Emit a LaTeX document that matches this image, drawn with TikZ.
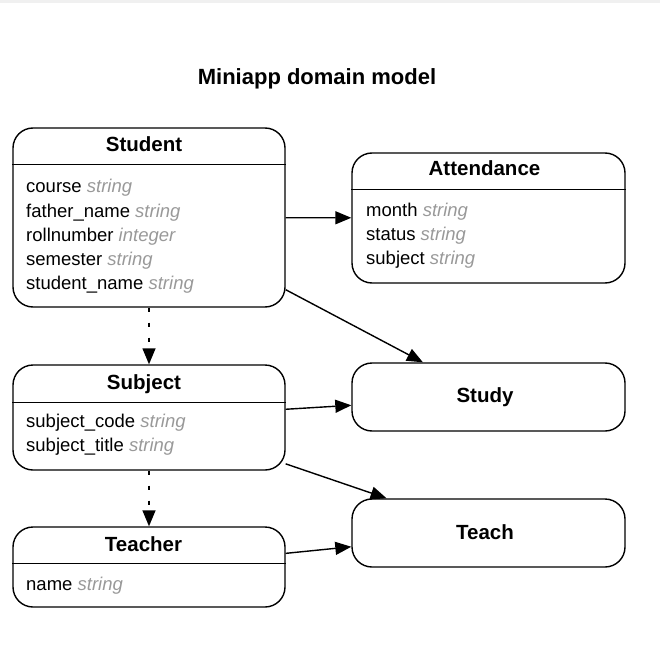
\documentclass[tikz,border=0pt]{standalone}
\usepackage{fontspec}
\setmainfont{Liberation Sans}
\usetikzlibrary{arrows.meta,positioning}
\definecolor{typegray}{HTML}{999999}
\definecolor{bandgray}{HTML}{F0F0F0}
\newcommand{\ty}[1]{{\color{typegray}\itshape #1}}
\tikzstyle{entitystyle}=[draw,line width=1.4pt,rounded corners=20pt,minimum width=272pt,inner sep=0pt]
\tikzstyle{headstyle}=[font=\fontsize{20.5}{24}\selectfont\bfseries,inner sep=0pt,anchor=base]
\tikzstyle{attrstyle}=[font=\fontsize{18.5}{22}\selectfont,inner sep=0pt,anchor=base west]

\begin{document}
\begin{tikzpicture}[x=1pt,y=-1pt,node distance=200pt,on grid]
	\tikzstyle{rel}=[line width=1.4pt,-{Triangle[length=16pt,width=13pt]}]
	\tikzstyle{dep}=[rel,dash pattern=on 4pt off 11pt]

	\useasboundingbox (0,0) rectangle (660,660);
	\fill[bandgray] (0,0) rectangle (660,3);
	\node[font=\fontsize{22}{26}\selectfont\bfseries,inner sep=0pt,anchor=base] (title) at (317,85) {Miniapp domain model};

	% entities
	\node[entitystyle,minimum height=179pt] (student) at (149,217.5) {};
	\node[entitystyle,minimum height=130pt,minimum width=273pt] (attendance) [right=339.5pt of student,yshift=-0.5pt] {};
	\node[entitystyle,minimum height=105pt] (subject) [below=200pt of student] {};
	\node[entitystyle,minimum height=80pt] (teacher) [below=149.5pt of subject] {};
	\node[entitystyle,minimum height=68pt,minimum width=273pt] (study) [right=339.5pt of subject,yshift=20.5pt] {};
	\node[entitystyle,minimum height=68pt,minimum width=273pt] (teach) [right=339.5pt of teacher,yshift=34pt] {};

	% header lines
	\draw[line width=1.4pt] ([yshift=-37pt]student.north west) -- ([yshift=-37pt]student.north east);
	\draw[line width=1.4pt] ([yshift=-37pt]attendance.north west) -- ([yshift=-37pt]attendance.north east);
	\draw[line width=1.4pt] ([yshift=-38pt]subject.north west) -- ([yshift=-38pt]subject.north east);
	\draw[line width=1.4pt] ([yshift=-37pt]teacher.north west) -- ([yshift=-37pt]teacher.north east);

	% titles
	\node[headstyle] (student-h) at (144,152) {Student};
	\node[headstyle] (attendance-h) at (484.5,176) {Attendance};
	\node[headstyle] (subject-h) at (144,389.5) {Subject};
	\node[headstyle] (teacher-h) at (143.5,551.5) {Teacher};
	\node[headstyle] (study-h) at (485,402.5) {Study};
	\node[headstyle] (teach-h) at (485,539) {Teach};

	% attributes
	\node[attrstyle] (student-a1) at (26,193) {course \ty{string}};
	\node[attrstyle] (student-a2) at (26,217.2) {father\_name \ty{string}};
	\node[attrstyle] (student-a3) at (26,241.4) {rollnumber \ty{integer}};
	\node[attrstyle] (student-a4) at (26,265.6) {semester \ty{string}};
	\node[attrstyle] (student-a5) at (26,289.8) {student\_name \ty{string}};
	\node[attrstyle] (attendance-a1) at (366,216.5) {month \ty{string}};
	\node[attrstyle] (attendance-a2) at (366,240.7) {status \ty{string}};
	\node[attrstyle] (attendance-a3) at (366,264.9) {subject \ty{string}};
	\node[attrstyle] (subject-a1) at (26,427.5) {subject\_code \ty{string}};
	\node[attrstyle] (subject-a2) at (26,451.7) {subject\_title \ty{string}};
	\node[attrstyle] (teacher-a1) at (26,590.5) {name \ty{string}};

	% relations
	\draw[rel] (student) -- (attendance);
	\draw[rel] (student) -- (study);
	\draw[rel] (subject) -- (study);
	\draw[rel] (subject) -- (teach);
	\draw[rel] (teacher) -- (teach);
	\draw[dep] (student) -- (subject);
	\draw[dep] (subject) -- (teacher);

\end{tikzpicture}
\end{document}
